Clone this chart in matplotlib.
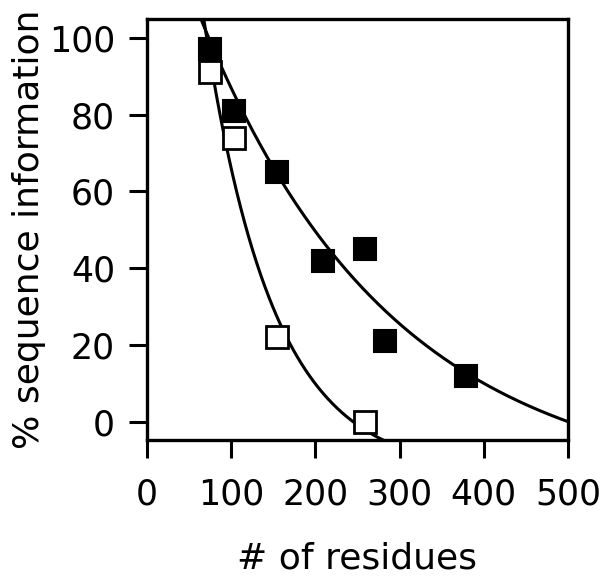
import numpy as np
import matplotlib
matplotlib.use("Agg")
import matplotlib.pyplot as plt

plt.rcParams['font.family'] = ['DejaVu Sans']

# data
filled_x = [75, 103, 154, 209, 259, 283, 379]
filled_y = [97, 81, 65, 42, 45, 21, 12]
open_x = [75, 103, 154, 259]
open_y = [91, 74, 22, 0]

# exponential decay fit parameters y = A*exp(-k x) + C
filled_fit = dict(A=163.0, k=0.0044, C=-18.0)
open_fit = dict(A=270.8, k=0.01225, C=-13.45)

x_ticks = [0, 100, 200, 300, 400, 500]
y_ticks = [0, 20, 40, 60, 80, 100]

fig = plt.figure(figsize=(6.02, 5.85), dpi=100)
ax = fig.add_axes([0.244, 0.248, 0.6995, 0.7195])

xs = np.linspace(20, 500, 600)
for p in (filled_fit, open_fit):
    ax.plot(xs, p['A'] * np.exp(-p['k'] * xs) + p['C'], color='black', lw=2.2, zorder=2)

ax.plot(filled_x, filled_y, ls='none', marker='s', ms=16, mfc='black', mec='black', mew=1.5, zorder=3)
ax.plot(open_x, open_y, ls='none', marker='s', ms=16, mfc='white', mec='black', mew=2.0, zorder=3)

ax.set_xlim(0, 500)
ax.set_ylim(-4.7, 104.9)
ax.set_xticks(x_ticks)
ax.set_yticks(y_ticks)
ax.tick_params(direction='out', length=13, width=2.2, labelsize=25)
ax.tick_params(axis='x', pad=14)
ax.tick_params(axis='y', pad=10)
for s in ax.spines.values():
    s.set_linewidth(2.4)

ax.set_xlabel('# of residues', fontsize=26, labelpad=22)
ax.set_ylabel('% sequence information', fontsize=26, labelpad=2)

fig.savefig('out.png', dpi=100)
